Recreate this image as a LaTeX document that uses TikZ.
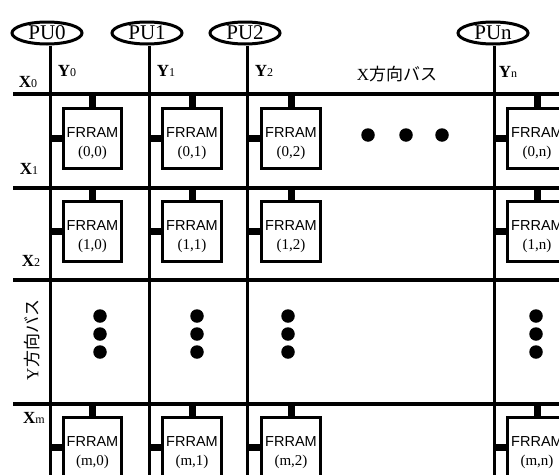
\documentclass[tikz,border=0pt]{standalone}
\usepackage{fontspec}
\setmainfont{Liberation Serif}
\setsansfont{Liberation Sans}
\newfontfamily\jpfont{Noto Sans CJK JP}
\usetikzlibrary{shapes.geometric}
\newcommand\subnum[1]{{\fontsize{12}{12}\selectfont\mdseries #1}}
\begin{document}
\begin{tikzpicture}[x=1pt,y=-1pt,
  pu/.style={ellipse,draw,line width=3pt,minimum width=70pt,minimum height=22pt,inner sep=0pt,font=\fontsize{21}{21}\selectfont},
  ybus/.style={line width=3pt},
  xbus/.style={line width=4.3pt},
  ram/.style={draw,fill=white,line width=2.8pt,minimum width=58.5pt,minimum height=60.5pt,inner sep=0pt},
  ramtxt/.style={align=center,inner sep=0pt},
  stub/.style={line width=7pt},
  bigdot/.style={circle,fill,inner sep=0pt,minimum size=13.5pt},
  lab/.style={font=\fontsize{17}{17}\selectfont\bfseries,inner sep=0pt},
  jlab/.style={font=\fontsize{17}{17}\selectfont,inner sep=0pt}
]
\useasboundingbox (0,0) rectangle (559,474);
\clip (0,0) rectangle (559,474);
\fill[white] (0,0) rectangle (559,474);

% PU ellipses
\node[pu] (pu0) at (47,33) {PU0};
\node[pu] (pu1) at (147,33) {PU1};
\node[pu] (pu2) at (245,33) {PU2};
\node[pu] (pun) at (493,33) {PUn};

% bus end coordinates
\coordinate (y0) at (50,480);
\coordinate (y1) at (149,480);
\coordinate (y2) at (247,480);
\coordinate (yn) at (494,480);
\coordinate (x0l) at (13,94);   \coordinate (x0r) at (565,94);
\coordinate (x1l) at (13,188);  \coordinate (x1r) at (565,188);
\coordinate (x2l) at (13,280);  \coordinate (x2r) at (565,280);
\coordinate (xml) at (13,404);  \coordinate (xmr) at (565,404);

% buses
\draw[ybus] (pu0.south -| y0) -- (y0);
\draw[ybus] (pu1.south -| y1) -- (y1);
\draw[ybus] (pu2.south -| y2) -- (y2);
\draw[ybus] (pun.south -| yn) -- (yn);
\draw[xbus] (x0l) -- (x0r);
\draw[xbus] (x1l) -- (x1r);
\draw[xbus] (x2l) -- (x2r);
\draw[xbus] (xml) -- (xmr);

% FRRAM boxes
\newcommand\ramtext[1]{{\sffamily\fontsize{14.5}{14.5}\selectfont FRRAM}\\[6.5pt]{\fontsize{15}{15}\selectfont #1}}
\foreach \r/\yy in {0/138.5,1/231.5,m/447.5}{
  \foreach \c/\xx in {0/92.5,1/192,2/291,n/537}{
    \node[ram] (r\r\c) at (\xx,\yy) {};
    \node[ramtxt] (t\r\c) at ([yshift=-5pt]r\r\c.center) {\ramtext{(\r,\c)}};
  }
}

% stubs
\foreach \r/\x in {0/x0,1/x1,m/xm}{
  \foreach \c/\y in {0/y0,1/y1,2/y2,n/yn}{
    \draw[stub] (r\r\c.north) -- (r\r\c.north |- \x l);
    \draw[stub] (r\r\c.west) -- (r\r\c.west -| \y);
  }
}

% dots
\node[bigdot] (h1) at (368,135) {};
\node[bigdot] (h2) at (406,135) {};
\node[bigdot] (h3) at (442,135) {};
\foreach \n/\x in {a/100,b/197,c/288,d/536}{
  \node[bigdot] (v\n1) at (\x,316) {};
  \node[bigdot] (v\n2) at (\x,334) {};
  \node[bigdot] (v\n3) at (\x,352) {};
}

% labels
\node[lab] (lx0) at (28,82) {X\subnum{0}};
\node[lab] (lx1) at (29,169) {X\subnum{1}};
\node[lab] (lx2) at (31,261) {X\subnum{2}};
\node[lab] (lxm) at (34,418) {X\subnum{m}};
\node[lab] (ly0) at (67,71) {Y\subnum{0}};
\node[lab] (ly1) at (166,71) {Y\subnum{1}};
\node[lab] (ly2) at (264,71) {Y\subnum{2}};
\node[lab] (lyn) at (508,72) {Y\subnum{n}};
\node[jlab] (xbl) at (397,74) {X{\jpfont 方向バス}};
\node[jlab,rotate=90] (ybl) at (32,340) {Y{\jpfont 方向バス}};
\end{tikzpicture}
\end{document}
